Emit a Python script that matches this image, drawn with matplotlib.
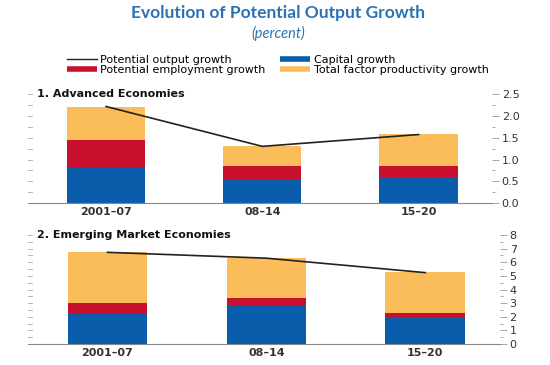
import numpy as np
import matplotlib
matplotlib.use("Agg")
import matplotlib.pyplot as plt
from matplotlib.lines import Line2D
from matplotlib.ticker import MultipleLocator, FormatStrFormatter

periods = ["2001\u201307", "08\u201314", "15\u201320"]

# Advanced economies
adv_capital = [0.80, 0.53, 0.61]
adv_employment = [0.65, 0.315, 0.235]
adv_tfp = [0.76, 0.455, 0.73]
adv_potential = [2.21, 1.30, 1.57]

# Emerging market economies
eme_capital = [2.18, 2.79, 2.00]
eme_employment = [0.81, 0.61, 0.30]
eme_tfp = [3.74, 2.89, 2.96]
eme_potential = [6.73, 6.30, 5.24]

BLUE = "#0a5dab"
RED = "#c8102e"
YELLOW = "#fbbc5a"
LINE = "#222222"
TITLE_BLUE = "#2a72b5"

plt.rcParams.update({"font.family": "DejaVu Sans"})

fig = plt.figure(figsize=(5.5, 3.65), dpi=100)
fig.text(0.505, 0.965, "Evolution of Potential Output Growth", ha="center", va="center",
         fontsize=12.5, fontweight="bold", color=TITLE_BLUE, family="Lato")
fig.text(0.505, 0.908, "(percent)", ha="center", va="center",
         fontsize=10.5, style="italic", color=TITLE_BLUE, family="Lato")


def panel(rect, title, cap, emp, tfp, pot, ymax, major, minor, left_step):
    ax = fig.add_axes(rect)
    x = np.arange(len(periods))
    w = 0.50
    cap = np.array(cap)
    emp = np.array(emp)
    tfp = np.array(tfp)
    ax.bar(x, cap, w, color=BLUE, zorder=2)
    ax.bar(x, emp, w, bottom=cap, color=RED, zorder=2)
    ax.bar(x, tfp, w, bottom=cap + emp, color=YELLOW, zorder=2)
    ax.plot(x, pot, color=LINE, lw=1.2, zorder=3)
    ax.set_xlim(-0.5, 2.47)
    ax.set_ylim(0, ymax)
    for s in ["top", "left", "right"]:
        ax.spines[s].set_visible(False)
    ax.spines["bottom"].set_color("#888888")
    ax.spines["bottom"].set_linewidth(0.8)
    ax.set_xticks(x)
    ax.set_xticklabels(periods, fontsize=8, fontweight="bold", color="#333333")
    ax.tick_params(axis="x", length=0, pad=3)
    ax.yaxis.tick_right()
    ax.yaxis.set_major_locator(MultipleLocator(major))
    ax.yaxis.set_minor_locator(MultipleLocator(minor))
    ax.tick_params(axis="y", which="major", length=5, width=0.6, color="#999999",
                   labelsize=8, labelcolor="#333333", pad=2)
    ax.tick_params(axis="y", which="minor", length=2.5, width=0.6, color="#999999")
    if major < 1:
        ax.yaxis.set_major_formatter(FormatStrFormatter("%.1f"))
    # unlabeled ticks along the left edge
    for v in np.arange(0, ymax + 1e-9, left_step):
        ax.plot([-0.5, -0.473], [v, v], color="#aaaaaa", lw=0.6, clip_on=False)
    ax.text(0.02, 1.0, title, transform=ax.transAxes, ha="left", va="center",
            fontsize=8, fontweight="bold", color="#111111")
    return ax


panel([0.0509, 0.443, 0.8436, 0.300], "1. Advanced Economies",
      adv_capital, adv_employment, adv_tfp, adv_potential, 2.5, 0.5, 0.25, 0.25)
panel([0.0509, 0.0575, 0.858, 0.2986], "2. Emerging Market Economies",
      eme_capital, eme_employment, eme_tfp, eme_potential, 8, 1, 0.5, 0.5)

handles = [
    Line2D([], [], color=LINE, lw=1),
    Line2D([], [], color=RED, lw=4, solid_capstyle="butt"),
    Line2D([], [], color=BLUE, lw=4, solid_capstyle="butt"),
    Line2D([], [], color=YELLOW, lw=4, solid_capstyle="butt"),
]
labels = ["Potential output growth", "Potential employment growth",
          "Capital growth", "Total factor productivity growth"]
fig.legend(handles, labels, ncol=2, loc="center", bbox_to_anchor=(0.505, 0.823),
           frameon=False, fontsize=8, handlelength=2.7, handletextpad=0.3,
           labelspacing=0.0, columnspacing=1.3, borderpad=0)

fig.savefig("out.png", dpi=100)
